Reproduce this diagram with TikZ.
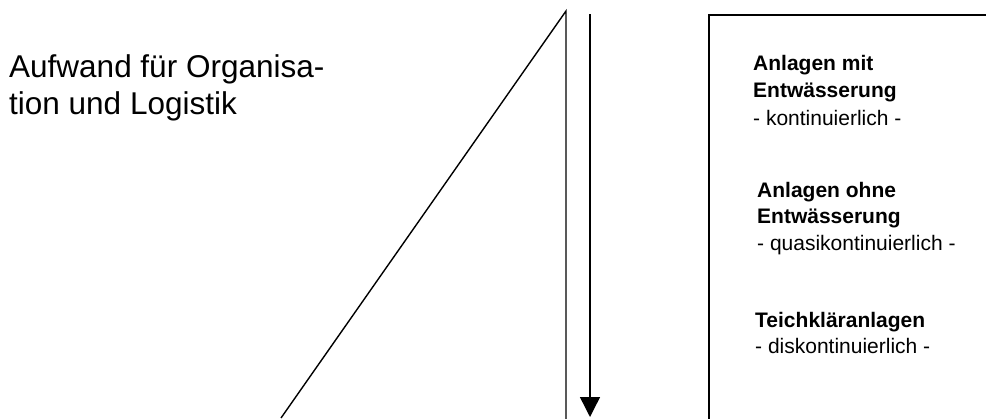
\documentclass[tikz,border=0pt]{standalone}
\usepackage{fontspec}
\setmainfont{Liberation Sans}
\usetikzlibrary{arrows.meta}
\begin{document}
\begin{tikzpicture}[x=1pt,y=-1pt,
  thinline/.style={line width=1.4pt,black},
  boxline/.style={line width=2pt,black},
  bigtxt/.style={anchor=base west,inner sep=0pt,font=\fontsize{31.5}{36}\selectfont},
  headtxt/.style={anchor=base west,inner sep=0pt,font=\fontsize{21}{27}\selectfont\bfseries},
  subtxt/.style={anchor=base west,inner sep=0pt,font=\fontsize{21}{27}\selectfont}]
\useasboundingbox (0,0) rectangle (986,418);
\clip (0,0) rectangle (986,418);
% coordinates
\coordinate (apex) at (566,11);
\coordinate (diagbot) at (281,418);
\coordinate (vertbot) at (566,420);
\coordinate (arrtop) at (590,14);
\coordinate (arrtip) at (590,417);
% triangle
\draw[thinline,line join=miter] (diagbot) -- (apex) -- (vertbot);
% arrow
\draw[thinline,-{Triangle[width=20pt,length=20pt]}] (arrtop) -- (arrtip);
% box
\draw[boxline] (709,15) rectangle (1000,430);
% left text
\node[bigtxt] (aufwand) at (9,77.5) {Aufwand für Organisa-};
\node[bigtxt] (logistik) at (9,114) {tion und Logistik};
% box text
\node[headtxt] (h1a) at (753,70) {Anlagen mit};
\node[headtxt] (h1b) at (753,97.5) {Entwässerung};
\node[subtxt] (s1) at (753,125) {- kontinuierlich -};
\node[headtxt] (h2a) at (757,197) {Anlagen ohne};
\node[headtxt] (h2b) at (757,223.5) {Entwässerung};
\node[subtxt] (s2) at (757,250) {- quasikontinuierlich -};
\node[headtxt] (h3) at (755,327) {Teichkläranlagen};
\node[subtxt] (s3) at (755,353) {- diskontinuierlich -};
\end{tikzpicture}
\end{document}
